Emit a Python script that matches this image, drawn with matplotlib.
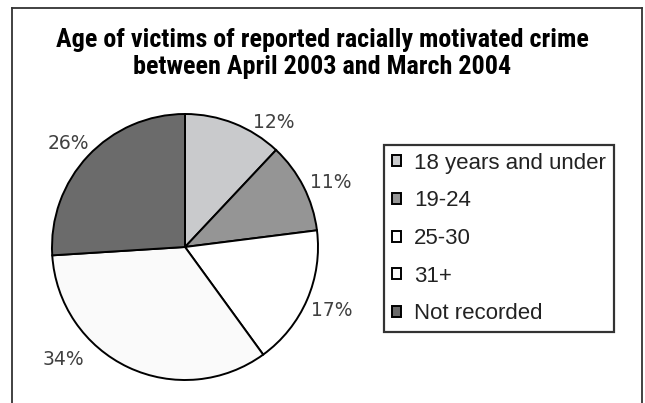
import matplotlib.pyplot as plt
import numpy as np
from matplotlib import font_manager
from matplotlib.lines import Line2D

# data
categories = ["18 years and under", "19-24", "25-30", "31+", "Not recorded"]
shares = [12, 11, 17, 34, 26]
pct_labels = ["12%", "11%", "17%", "34%", "26%"]
colors = ["#c9cacc", "#959595", "#ffffff", "#fafafa", "#6b6b6b"]
title_lines = ["Age of victims of reported racially motivated crime",
               "between April 2003 and March 2004"]

W, H = 645, 403
fig = plt.figure(figsize=(W / 100, H / 100), dpi=100)
fig.patch.set_facecolor("white")
fx = lambda px: px / W
fy = lambda py: 1 - py / H

# pick a narrow bold face for the title if one exists
installed = {f.name for f in font_manager.fontManager.ttflist}
title_font = "DejaVu Sans"
for cand in ["Liberation Sans Narrow", "DejaVu Sans Condensed",
             "Roboto Condensed", "Roboto", "Liberation Sans"]:
    if cand in installed:
        title_font = cand
        break

# outer frame (open at the bottom, like the clipped screenshot)
for xs, ys in [([12, 12], [8, 500]), ([12, 642], [8, 8]), ([642, 642], [8, 500])]:
    fig.add_artist(Line2D([fx(x) for x in xs], [fy(y) for y in ys],
                          color="#333333", lw=1.3))

# title, scaled so the first line spans about 532 px like the reference
renderer = fig.canvas.get_renderer()
t1 = fig.text(0.5, fy(40), title_lines[0], ha="center", va="center",
              fontsize=16, fontweight="bold", family=title_font)
w = t1.get_window_extent(renderer).width
size = 16 * 532 / w
t1.set_fontsize(size)
fig.text(0.5, fy(67), title_lines[1], ha="center", va="center",
         fontsize=size, fontweight="bold", family=title_font)

# pie: centre (185, 247) px, radius 133 px
cx, cy, r = 185, 247, 133
half = 200
ax = fig.add_axes([fx(cx - half), fy(cy + half), 2 * half / W, 2 * half / H])

wedges, texts = ax.pie(shares, labels=pct_labels, colors=colors, startangle=90,
                       counterclock=False, labeldistance=1.2,
                       wedgeprops=dict(edgecolor="black", linewidth=1.4),
                       textprops=dict(fontsize=13.5, color="#404040",
                                      family="DejaVu Sans"))
lim = half / r
ax.set_xlim(-lim, lim)
ax.set_ylim(-lim, lim)
ax.set_aspect("equal")
ax.axis("off")

# Excel-style "best fit" nudges for the labels
nudge = {0: (-14, 0.96), 1: (-3, 1.0), 3: (-22, 1.04), 4: (1.6, 0.98)}
start = 90
for i, (s, t) in enumerate(zip(shares, texts)):
    mid = start - s * 3.6 / 2
    start -= s * 3.6
    t.set_ha("center")
    t.set_va("center")
    if i in nudge:
        da, k = nudge[i]
        a = np.deg2rad(mid + da)
        t.set_position((1.2 * k * np.cos(a), 1.2 * k * np.sin(a)))

leg = fig.legend(wedges, categories, loc="upper left",
                 bbox_to_anchor=(fx(384), fy(145)),
                 prop=dict(family="Liberation Sans", size=16),
                 handlelength=0.4, handleheight=0.4, handletextpad=0.6,
                 labelspacing=0.75, borderpad=0.35, borderaxespad=0,
                 frameon=True, fancybox=False, edgecolor="black")
leg.get_frame().set_linewidth(1.6)
for txt in leg.get_texts():
    txt.set_color("#222222")

fig.savefig("out.png", dpi=100)
